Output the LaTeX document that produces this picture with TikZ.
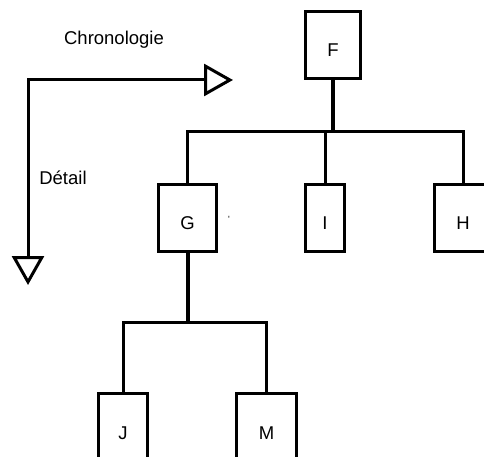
\documentclass[tikz,border=0pt]{standalone}
\usepackage{fontspec}
\setmainfont{Liberation Sans}
\usetikzlibrary{arrows.meta}
\begin{document}
\begin{tikzpicture}[x=1pt,y=1pt,
  box/.style={draw,line width=3pt,inner sep=0pt,text height=23pt,text depth=0pt,font=\fontsize{18.5}{20}\selectfont},
  conn/.style={line width=3pt},
  stem/.style={line width=4pt},
  axis/.style={line width=3pt,{Triangle[open,length=29pt,width=32pt]}-{Triangle[open,length=29pt,width=32pt]}},
  lbl/.style={font=\fontsize{18.5}{20}\selectfont}]
\useasboundingbox (0,0) rectangle (484,-457);
% axes
\coordinate (o) at (28,-80);
\coordinate (ce) at (233,-80);
\coordinate (de) at (28,-285);
\draw[axis] (ce) -- (o) -- (de);
\node[lbl] (chr) at (114,-40) {Chronologie};
\node[lbl] (det) at (63,-178) {Détail};
% tree
\node[box,minimum width=55pt,minimum height=67pt] (F) at (333,-45) {F};
\node[box,minimum width=58pt,minimum height=67pt] (G) at (187.5,-218) {G};
\node[box,minimum width=39pt,minimum height=67pt] (I) at (325,-218) {I};
\node[box,minimum width=58pt,minimum height=67pt] (H) at (463,-218) {H};
\node[box,minimum width=49pt,minimum height=70pt] (J) at (123,-428) {J};
\node[box,minimum width=60pt,minimum height=70pt] (M) at (266.5,-428) {M};
\node[font=\fontsize{9}{9}\selectfont] (tick) at (229,-219) {\textquotesingle};
\coordinate (b1) at (333,-132);
\coordinate (b2) at (187.5,-322);
\draw[stem] (F.south) -- (b1);
\draw[conn] (G.north) |- (b1);
\draw[conn] (H.north) |- (b1);
\draw[conn] (I.north) -- (I.north |- b1);
\draw[stem] (G.south) -- (b2);
\draw[conn] (J.north) |- (b2);
\draw[conn] (M.north) |- (b2);
\end{tikzpicture}
\end{document}
